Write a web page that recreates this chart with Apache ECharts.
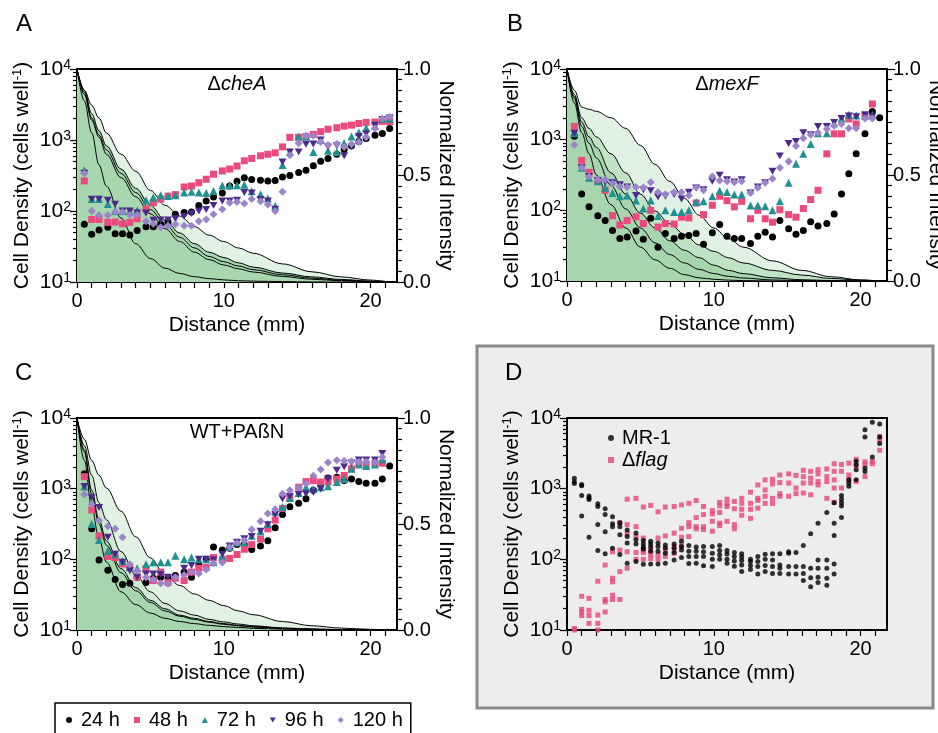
<!DOCTYPE html>
<html><head><meta charset="utf-8">
<script src="https://cdn.jsdelivr.net/npm/echarts@6/dist/echarts.min.js"></script>
<style>html,body{margin:0;padding:0;background:#fff}#c{width:938px;height:733px}</style>
</head><body><div id="c"></div>
<script>
// ---------- DATA ----------
const distances = [0.5,1.0,1.5,2.1,2.6,3.1,3.6,4.1,4.7,5.2,5.7,6.2,6.7,7.3,7.8,8.3,8.8,9.3,9.9,10.4,10.9,11.4,11.9,12.5,13.0,13.5,14.0,14.5,15.1,15.6,16.1,16.6,17.1,17.7,18.2,18.7,19.2,19.7,20.3,20.8,21.3];
const profileDistances = [0,0.5,1,1.5,2,3,4,5,6,7,8,9,10,11,12,14,16,18,20,21.3];
const timeLabels = ['24 h','48 h','72 h','96 h','120 h'];
const xTickLabels = [0,10,20];
const intensityTickLabels = [0,0.5,1];

// Panel A (ΔcheA)
const cheA_24 = [65,47,54,59,48,48,46,53,60,60,65,70,90,95,97,120,138,158,180,225,262,295,277,270,265,268,302,315,348,375,433,500,550,630,735,830,955,1050,1170,1230,1450];
const cheA_48 = [265,76,76,69,70,66,69,78,106,131,147,162,170,218,225,250,280,330,367,390,430,510,550,600,630,660,800,1090,1090,1120,1200,1310,1420,1490,1570,1620,1710,1770,1790,1830,1810];
const cheA_72 = [375,147,147,125,100,100,100,102,142,155,167,162,167,182,186,182,180,192,228,228,230,235,190,172,150,118,445,680,1120,1120,680,1000,705,680,910,1120,1290,1470,1570,2000,2000];
const cheA_96 = [340,147,147,142,125,100,100,94,94,74,75,75,78,84,92,100,105,120,138,138,142,182,180,145,138,106,490,680,680,870,880,1000,800,830,600,800,1120,1230,1620,1940,2050];
const cheA_120 = [340,100,87,87,97,97,88,88,72,66,59,62,65,62,62,72,76,90,106,131,134,128,147,137,123,100,186,610,900,1150,1150,940,850,880,800,880,940,1090,1450,2000,2100];
const cheA_profile1 = [1,0.9,0.83,0.77,0.7,0.6,0.52,0.43,0.36,0.31,0.26,0.22,0.19,0.16,0.135,0.085,0.048,0.024,0.009,0];
const cheA_profile2 = [1,0.9,0.79,0.71,0.64,0.53,0.44,0.36,0.29,0.23,0.18,0.14,0.115,0.09,0.07,0.042,0.024,0.012,0.004,0];
const cheA_profile3 = [1,0.89,0.77,0.69,0.62,0.51,0.42,0.34,0.27,0.21,0.16,0.12,0.095,0.075,0.058,0.034,0.018,0.008,0.003,0];
const cheA_profile4 = [1,0.88,0.76,0.68,0.6,0.49,0.4,0.32,0.25,0.19,0.14,0.105,0.08,0.062,0.047,0.026,0.013,0.006,0.002,0];
const cheA_profile5 = [1,0.85,0.7,0.55,0.45,0.3,0.18,0.11,0.065,0.04,0.025,0.016,0.01,0.006,0.004,0.002,0,0,0,0];

// Panel B (ΔmexF)
const mexF_24 = [1120,170,112,84,72,52,40,42,51,39,77,30,47,40,43,44,47,33,48,63,43,40,40,34,43,49,42,72,55,46,52,69,60,65,89,170,330,630,1210,2500,2040];
const mexF_48 = [1540,510,345,265,192,84,62,72,81,65,100,58,65,64,80,78,127,87,118,158,137,112,134,76,100,76,68,102,87,80,106,142,192,630,1210,1210,1960,1670,2170,3200,null];
const mexF_72 = [1230,400,290,258,208,176,158,162,138,106,138,83,100,95,95,100,131,134,158,190,182,167,167,117,117,114,100,134,245,455,630,870,1230,1230,1710,2000,2250,2200,2200,2250,null];
const mexF_96 = [1230,400,302,265,250,245,230,214,162,195,190,155,158,167,145,180,208,195,258,315,270,252,270,176,214,245,357,590,880,940,1250,1170,1540,1540,1750,2000,2170,2120,2250,2120,null];
const mexF_120 = [850,400,302,270,270,240,218,214,214,210,250,180,167,180,180,162,210,192,302,265,258,250,258,176,208,245,280,400,490,815,1050,1170,1250,1420,1570,1670,1450,1450,2000,2000,null];
const mexF_profile1 = [1,0.9,0.82,0.81,0.8,0.77,0.72,0.64,0.55,0.47,0.39,0.31,0.25,0.2,0.16,0.095,0.05,0.02,0.005,0];
const mexF_profile2 = [1,0.88,0.77,0.72,0.68,0.6,0.51,0.41,0.33,0.27,0.22,0.17,0.14,0.11,0.085,0.05,0.028,0.012,0.004,0];
const mexF_profile3 = [1,0.87,0.75,0.68,0.63,0.51,0.41,0.32,0.25,0.19,0.145,0.11,0.075,0.05,0.035,0.015,0.006,0.002,0,0];
const mexF_profile4 = [1,0.86,0.73,0.65,0.58,0.45,0.34,0.25,0.18,0.125,0.085,0.055,0.035,0.022,0.014,0.005,0.002,0,0,0];
const mexF_profile5 = [1,0.84,0.7,0.6,0.5,0.36,0.25,0.16,0.1,0.06,0.03,0.015,0.008,0.004,0.002,0,0,0,0,0];

// Panel C (WT+PAßN)
const pabn_24 = [1620,270,98,70,52,44,46,56,47,54,56,55,59,66,56,83,100,150,135,143,162,162,138,155,183,280,430,555,620,720,950,1160,1420,1450,1300,1370,1260,1190,1190,1370,2100];
const pabn_48 = [1480,500,215,110,106,86,77,56,73,50,66,47,54,50,66,75,77,106,100,103,117,139,162,194,270,360,525,740,1050,1260,1300,1240,1240,1370,1540,1910,2290,2190,2290,2290,null];
const pabn_72 = [1070,315,187,131,118,95,77,75,85,91,91,91,112,100,106,100,100,91,110,150,175,175,215,250,315,470,550,740,870,1050,990,1050,1080,1240,1370,1910,2200,2100,2200,2600,null];
const pabn_96 = [1070,745,540,205,118,91,69,56,62,62,61,56,54,75,82,100,100,98,118,155,175,195,210,250,310,430,720,780,825,850,890,990,1370,1820,2040,2300,2550,2550,2550,3150,null];
const pabn_120 = [830,600,355,295,270,205,85,69,56,52,46,45,56,60,66,63,72,88,90,150,170,185,265,345,445,510,850,950,1040,1180,1520,1870,2340,2520,2480,2450,2400,2400,2340,2800,null];
const pabn_profile1 = [1,0.9,0.8,0.73,0.67,0.56,0.44,0.34,0.26,0.21,0.17,0.14,0.115,0.09,0.072,0.04,0.02,0.009,0.003,0];
const pabn_profile2 = [1,0.87,0.73,0.6,0.52,0.37,0.26,0.18,0.125,0.09,0.07,0.05,0.038,0.028,0.02,0.01,0.005,0.002,0,0];
const pabn_profile3 = [1,0.85,0.66,0.52,0.42,0.29,0.2,0.14,0.1,0.07,0.055,0.04,0.03,0.022,0.016,0.008,0.004,0.001,0,0];
const pabn_profile4 = [1,0.84,0.64,0.5,0.4,0.27,0.185,0.13,0.09,0.065,0.05,0.037,0.027,0.02,0.014,0.007,0.003,0.001,0,0];
const pabn_profile5 = [1,0.8,0.58,0.43,0.32,0.18,0.12,0.08,0.055,0.04,0.03,0.022,0.016,0.012,0.008,0.004,0.002,0,0,0];

// Panel D (replicates per distance)
const mr1Replicates = [[1400,1250,1180],[1150,1100,800,410],[790,740,700,205],[610,560,310,133],[520,430,245,120],[400,320,290,143],[330,290,222,117],[260,210,170,88],[235,190,165,93],[185,165,150,140,85],[180,165,150,130,86],[170,152,130,86],[160,145,122,88],[165,143,125,98],[180,152,135,106],[157,130,110,87],[150,130,110,88],[152,128,110,81],[152,122,100,79],[157,133,116,100],[133,119,100,88],[125,110,95,80],[120,108,96,83,67],[100,93,82,72],[110,93,79,62],[118,100,82,67],[120,98,79,63],[120,83,75,63],[128,122,79,62],[125,79,62],[157,79,63,50],[230,75,55,41],[325,98,75,56,47],[460,98,75,54,43],[630,325,218,86,62],[800,710,630,570,390],[1340,1200,1080],[2450,2180,1850,1340],[6800,5400,1950,1750],[8700,2800],[8200,5400,4350]];
const flagReplicates = [[10.5,10],[30,19.6,18,16],[28,19,16,12.4],[49,16.3,12.4,10],[83,27,25,18],[128,54,48,31,27],[330,135,67,27],[710,310,230,128,75],[730,290,210,125,100],[550,200,135,125,100],[580,135,118,103],[470,200,116,100],[550,215,135,110],[560,235,150,122],[590,275,205,155],[620,330,290,210],[680,390,290,270],[560,430,290,265],[490,440,345,250],[640,570,460,325,300],[710,610,560,345],[660,520,310,270],[730,620,510,420],[890,620,510,380],[1130,730,680,530],[1330,960,780,620],[1360,1170,730,620],[1560,1220,850,780],[1620,1200,780],[1540,1020,850],[1820,1480,1200,870],[1760,1410,1200,820],[1860,1620,1260,1130],[1900,1480,1260,730],[2250,1760,1330,1020,640],[2200,1760,1020],[2300,1560,1330],[2600,2100,1260],[2400,2200,1480],[2450,2250],[5500,4950,3500]];

// ---------- BUILD ----------
const font = "'Liberation Sans', Arial, Helvetica, sans-serif";
const xTickPositions = []; for (let i = 0; i <= 21; i++) xTickPositions.push(i);
const minorLogPositions = [];
for (let d = 1; d < 4; d++) for (let k = 2; k <= 9; k++) minorLogPositions.push(Math.log10(k * Math.pow(10, d)));

function makeGrid(left, top, height, bg) {
  return {left, top, width:320, height, show:true, borderColor:'#000', borderWidth:2,
    backgroundColor:bg, containLabel:false, outerBoundsMode:'none'};
}
const grids = [
  makeGrid(77, 69, 213, 'transparent'),
  makeGrid(567, 69, 212, 'transparent'),
  makeGrid(77, 418, 212, 'transparent'),
  makeGrid(567, 418, 212, '#ededed')
];

const black = '#000';
function makeX(g) {
  return {type:'value', gridIndex:g, min:0, max:21.8,
    axisLine:{show:true, onZero:false, lineStyle:{color:black, width:1.5}},
    axisTick:{show:true, customValues:xTickPositions, length:6, lineStyle:{color:black, width:1.2}},
    axisLabel:{customValues:xTickLabels, color:black, fontSize:20, fontFamily:font, margin:9},
    splitLine:{show:false},
    name:'Distance (mm)', nameLocation:'middle', nameGap:33,
    nameTextStyle:{color:black, fontSize:21, fontFamily:font}};
}
function makeYLog(g) {
  return {type:'log', logBase:10, gridIndex:g, position:'left', min:10, max:10000,
    axisLine:{show:true, onZero:false, lineStyle:{color:black, width:1.5}},
    axisTick:{show:true, length:7, lineStyle:{color:black, width:1.2}},
    minorTick:{show:false}, splitLine:{show:false},
    axisLabel:{formatter: v => '{b|10}{s|' + Math.round(Math.log10(v)) + '}', margin:6,
      rich:{b:{fontSize:21, fontFamily:font, color:black, lineHeight:22, verticalAlign:'middle'},
            s:{fontSize:14, fontFamily:font, color:black, lineHeight:22, verticalAlign:'top'}}},
    name:'{a|Cell Density (cells well}{s|-1}{a|)}', nameLocation:'middle', nameGap:44,
    nameTextStyle:{rich:{a:{fontSize:21, fontFamily:font, color:black, lineHeight:22, verticalAlign:'middle'},
                         s:{fontSize:13, fontFamily:font, color:black, lineHeight:22, verticalAlign:'top'}}}};
}
function makeYMinor(g) {
  return {type:'value', gridIndex:g, position:'left', min:1, max:4,
    axisLine:{show:false}, axisLabel:{show:false}, splitLine:{show:false},
    axisTick:{show:true, customValues:minorLogPositions, length:4, lineStyle:{color:black, width:1.2}}};
}
function makeYRight(g) {
  return {type:'value', gridIndex:g, position:'right', min:0, max:1, interval:0.5,
    axisLine:{show:true, onZero:false, lineStyle:{color:black, width:1.5}},
    axisTick:{show:true, length:8, lineStyle:{color:black, width:1.2}},
    minorTick:{show:true, splitNumber:10, length:5, lineStyle:{color:black, width:1.2}},
    splitLine:{show:false}, minorSplitLine:{show:false},
    axisLabel:{customValues:intensityTickLabels, formatter: v => Number(v).toFixed(1), color:black, fontSize:20, fontFamily:font, margin:6},
    name:'Normalized Intensity', nameLocation:'middle', nameRotate:-90, nameGap:38,
    nameTextStyle:{color:black, fontSize:21, fontFamily:font}};
}

const xAxes = [makeX(0), makeX(1), makeX(2), makeX(3)];
const yAxes = [
  makeYLog(0), makeYMinor(0), makeYRight(0),
  makeYLog(1), makeYMinor(1), makeYRight(1),
  makeYLog(2), makeYMinor(2), makeYRight(2),
  makeYLog(3), makeYMinor(3)
];

const markerStyles = [
  {symbol:'circle', size:7, color:'#000'},
  {symbol:'rect', size:7, color:'#ec4a7e'},
  {symbol:'triangle', size:8, color:'#1f9190'},
  {symbol:'path://M0,0L10,0L5,8.7Z', size:8, color:'#4b2a8c'},
  {symbol:'diamond', size:8, color:'#9b84cb'}
];

const series = [];
function addArea(g, yIdx, profiles, fills) {
  profiles.forEach((p, k) => {
    series.push({type:'line', xAxisIndex:g, yAxisIndex:yIdx,
      data: profileDistances.map((x, i) => [x, p[i]]),
      smooth:0.35, smoothMonotone:'x', symbol:'none', silent:true,
      lineStyle:{color:'#000', width:1}, areaStyle:{color:fills[k], opacity:1}, z:1});
  });
}
function addScatter(g, yIdx, sets) {
  sets.forEach((arr, k) => {
    const st = markerStyles[k];
    const data = [];
    arr.forEach((v, i) => { if (v != null) data.push([distances[i], v]); });
    series.push({type:'scatter', name:timeLabels[k], xAxisIndex:g, yAxisIndex:yIdx, data,
      symbol:st.symbol, symbolSize:st.size, symbolKeepAspect:true,
      itemStyle:{color:st.color, opacity:1}, z:3});
  });
}

addArea(0, 2, [cheA_profile1,cheA_profile2,cheA_profile3,cheA_profile4,cheA_profile5], ['#e1f1e4','#a7d6af','#a7d6af','#a7d6af','#a7d6af']);
addScatter(0, 0, [cheA_24,cheA_48,cheA_72,cheA_96,cheA_120]);
addArea(1, 5, [mexF_profile1,mexF_profile2,mexF_profile3,mexF_profile4,mexF_profile5], ['#e1f1e4','#c0e3c6','#a6d5ae','#a6d5ae','#a6d5ae']);
addScatter(1, 3, [mexF_24,mexF_48,mexF_72,mexF_96,mexF_120]);
addArea(2, 8, [pabn_profile1,pabn_profile2,pabn_profile3,pabn_profile4,pabn_profile5], ['#e1f1e4','#cfe9d4','#a6d5ae','#a6d5ae','#a6d5ae']);
addScatter(2, 6, [pabn_24,pabn_48,pabn_72,pabn_96,pabn_120]);

const mr1Data = [], flagData = [];
mr1Replicates.forEach((vals, i) => vals.forEach(v => mr1Data.push([distances[i], v])));
flagReplicates.forEach((vals, i) => vals.forEach(v => flagData.push([distances[i], v])));
series.push({type:'scatter', name:'MR-1', xAxisIndex:3, yAxisIndex:9, data:mr1Data, symbol:'circle', symbolSize:5, itemStyle:{color:'#000'}, z:4});
series.push({type:'scatter', name:'Δflag', xAxisIndex:3, yAxisIndex:9, data:flagData, symbol:'rect', symbolSize:5, itemStyle:{color:'#e8437a'}, z:3});

const richTitle = {n:{fontSize:20, fontFamily:font, fill:'#000'}, i:{fontSize:20, fontFamily:font, fontStyle:'italic', fill:'#000'}};
const graphic = [
  {type:'rect', z:-10, shape:{x:477, y:346, width:456, height:362}, style:{fill:'#ededed', stroke:'#8a8a8a', lineWidth:3}},
  {type:'text', x:16, y:12, style:{text:'A', fontSize:24, fontFamily:font, fill:'#000'}},
  {type:'text', x:507, y:12, style:{text:'B', fontSize:24, fontFamily:font, fill:'#000'}},
  {type:'text', x:15, y:361, style:{text:'C', fontSize:24, fontFamily:font, fill:'#000'}},
  {type:'text', x:505, y:361, style:{text:'D', fontSize:24, fontFamily:font, fill:'#000'}},
  {type:'text', x:237, y:84, style:{text:'{n|Δ}{i|cheA}', rich:richTitle, align:'center', verticalAlign:'middle'}},
  {type:'text', x:727, y:84, style:{text:'{n|Δ}{i|mexF}', rich:richTitle, align:'center', verticalAlign:'middle'}},
  {type:'text', x:237, y:432, style:{text:'WT+PAßN', fontSize:20, fontFamily:font, fill:'#000', align:'center', verticalAlign:'middle'}}
];

const option = {
  backgroundColor:'#fff',
  animation:false,
  grid:grids, xAxis:xAxes, yAxis:yAxes, series, graphic,
  legend:[
    {data:timeLabels, left:55, top:703, orient:'horizontal', selectedMode:false,
     borderColor:'#000', borderWidth:1.5, padding:[7,8,12,11], itemGap:14, itemWidth:6, itemHeight:6,
     textStyle:{fontSize:20, fontFamily:font, color:'#000', padding:[0,0,0,4]}},
    {data:['MR-1','Δflag'], left:608, top:428, orient:'vertical', selectedMode:false, padding:0,
     itemGap:2, itemWidth:6, itemHeight:6,
     formatter: name => name === 'Δflag' ? '{n|Δ}{i|flag}' : '{n|' + name + '}',
     textStyle:{fontSize:20, fontFamily:font, color:'#000', padding:[0,0,0,3],
       rich:{n:{fontSize:20, fontFamily:font, color:'#000'}, i:{fontSize:20, fontFamily:font, fontStyle:'italic', color:'#000'}}}}
  ]
};
const chart = echarts.init(document.getElementById('c'), null, {renderer:'canvas'});
chart.setOption(option);
</script></body></html>
